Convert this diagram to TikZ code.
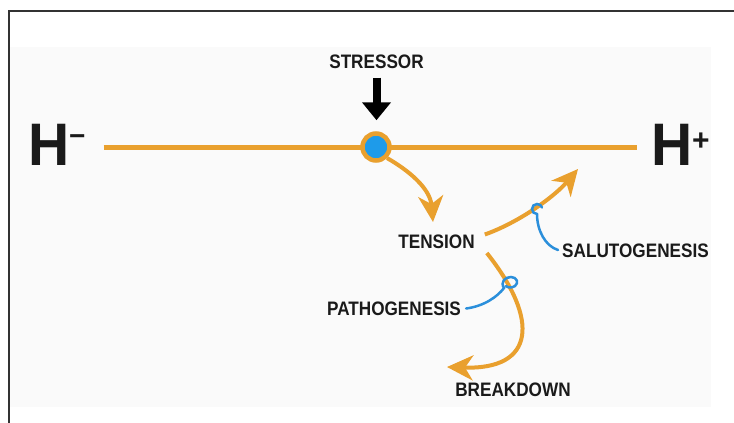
\documentclass[tikz,border=0pt]{standalone}
\usepackage{fontspec}
\setmainfont{Liberation Sans}
\newfontfamily\condfont[FakeStretch=0.88]{Liberation Sans}
\newfontfamily\hfont[FakeStretch=0.95]{Liberation Sans}
\usetikzlibrary{arrows.meta}
\definecolor{orng}{HTML}{E9A02E}
\definecolor{dotblue}{HTML}{1E9BEA}
\definecolor{hookblue}{HTML}{2B8FDB}
\definecolor{panel}{HTML}{FAFAFA}
\definecolor{ink}{HTML}{1A1A1A}
\begin{document}
\begin{tikzpicture}[x=1pt,y=-1pt,
  lbl/.style={font={\condfont\bfseries\fontsize{19.5pt}{20pt}\selectfont},inner sep=0pt,text=ink},
  bigh/.style={font={\hfont\bfseries\fontsize{60pt}{60pt}\selectfont},inner sep=0pt,text=ink,anchor=base west},
  oarrow/.style={draw=orng,line width=4pt,-{Stealth[length=26pt,width=25pt,inset=8pt]}},
  hookline/.style={draw=hookblue,line width=2.5pt,line cap=round},
  hline/.style={draw=orng,line width=5pt},
  blackarrow/.style={draw=black,line width=8pt,-{Triangle[length=18pt,width=28pt]}}]
\useasboundingbox (0,0) rectangle (734,423);
\fill[white] (0,0) rectangle (734,423);
\fill[panel] (10,47) rectangle (711,407);
\draw[black!80,line width=2pt] (9,423) -- (9,11) -- (734,11);

% big labels
\node[bigh] (hm) at (27.8,165) {H\raisebox{19.6pt}{\fontspec{Liberation Sans}\bfseries\fontsize{28pt}{28pt}\selectfont −}};
\node[bigh] (hp) at (650.8,165) {H\raisebox{14.4pt}{\fontspec{Liberation Sans}\bfseries\fontsize{30pt}{30pt}\selectfont +}};

% horizontal line and stressor dot
\draw[hline] ([xshift=18pt]hm.east |- 0,147) -- ([xshift=-14pt]hp.west |- 0,147);
\node[circle,draw=orng,line width=4.5pt,fill=dotblue,minimum size=27pt,inner sep=0pt] (c) at (376,147) {};

% texts
\node[lbl] (st) at (376.5,61.5) {STRESSOR};
\node[lbl] (t) at (436.5,241.5) {TENSION};
\node[lbl] (sal) at (635.5,251) {SALUTOGENESIS};
\node[lbl] (pat) at (394,308.5) {PATHOGENESIS};
\node[lbl] (bd) at (513,390) {BREAKDOWN};

% stressor arrow
\draw[blackarrow,shorten <=9pt,shorten >=11pt] (st.south) -- (st.south |- c.north);

% orange arrows
\coordinate (ttip) at (433,222);
\coordinate (saltip) at (578,169);
\coordinate (bdtip) at (447,367);
\draw[oarrow] (c.-45) .. controls (408,170) and (430,188) .. (ttip);
\draw[oarrow] ([xshift=10pt,yshift=7pt]t.east) .. controls (520,222) and (555,196) .. (saltip);
\draw[oarrow] ([xshift=12pt,yshift=-11.5pt]t.east) .. controls (540,320) and (535,370) .. (bdtip);

% blue hooks
\draw[hookline] ([xshift=-4pt,yshift=1pt]sal.west) .. controls (545,246) and (537,230) .. (537,214)
   .. controls (534.2,214) and (532,211.8) .. (532,209)
   .. controls (532,206.2) and (534.2,204) .. (537,204)
   .. controls (539.5,204) and (541.5,205.5) .. (542,207.5);
\draw[hookline] ([xshift=5pt]pat.east) .. controls (485,306) and (498,296) .. (504,288)
   .. controls (500,282) and (505,277) .. (511,277)
   .. controls (517,277) and (519,283) .. (515,286)
   .. controls (512,288) and (508,288) .. (506,286);
\end{tikzpicture}
\end{document}
